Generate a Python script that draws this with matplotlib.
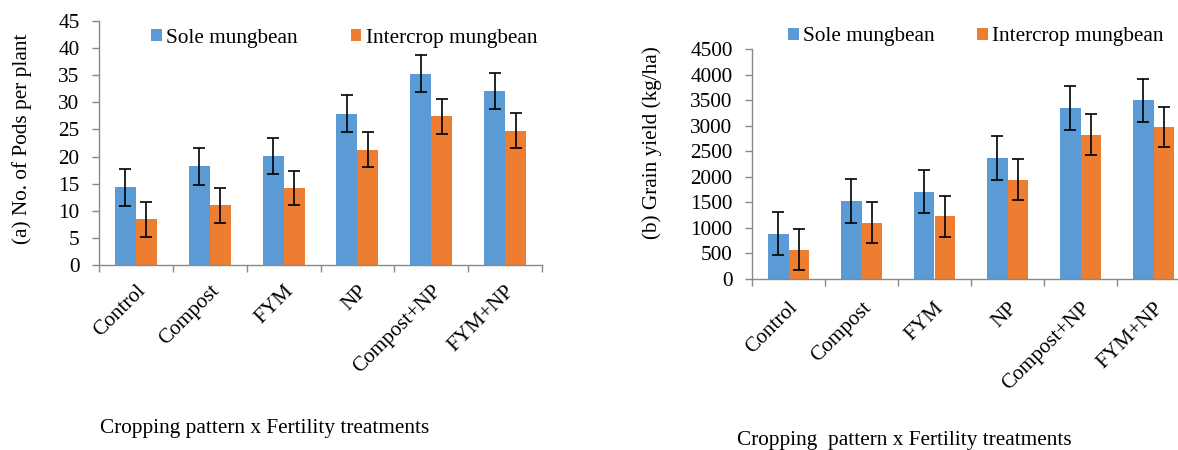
import matplotlib
matplotlib.use("Agg")
import matplotlib.pyplot as plt
import matplotlib.transforms as mtransforms
import numpy as np

plt.rcParams['font.family'] = ['Liberation Serif', 'DejaVu Serif']
plt.rcParams['font.size'] = 15.3

treatments = ['Control', 'Compost', 'FYM', 'NP', 'Compost+NP', 'FYM+NP']

# (a) pods per plant
pods_sole = [14.3, 18.2, 20.1, 27.9, 35.3, 32.1]
pods_sole_err = [3.4, 3.4, 3.4, 3.4, 3.4, 3.4]
pods_inter = [8.4, 11.0, 14.2, 21.3, 27.4, 24.8]
pods_inter_err = [3.2, 3.2, 3.2, 3.2, 3.2, 3.2]

# (b) grain yield
yield_sole = [885, 1530, 1710, 2370, 3345, 3495]
yield_sole_err = [425, 425, 425, 425, 425, 425]
yield_inter = [575, 1100, 1225, 1945, 2820, 2975]
yield_inter_err = [400, 400, 400, 400, 400, 400]

BLUE = '#5B9BD5'
ORANGE = '#ED7D31'
GRAY = '#898989'

W, H = 1178, 450
fig = plt.figure(figsize=(W / 100, H / 100), dpi=100)


def px_axes(x0, y_top, x1, y_bot):
    return fig.add_axes([x0 / W, 1 - y_bot / H, (x1 - x0) / W, (y_bot - y_top) / H])


def draw_panel(ax, sole, sole_err, inter, inter_err, ymax, ystep, pad, dx):
    x = np.arange(len(treatments))
    bw = 0.285
    eb = dict(ecolor='black', elinewidth=1.2, capsize=4.5, capthick=1.2)
    ax.bar(x - bw / 2, sole, bw, color=BLUE, yerr=sole_err, error_kw=eb,
           label='Sole mungbean', zorder=2)
    ax.bar(x + bw / 2, inter, bw, color=ORANGE, yerr=inter_err, error_kw=eb,
           label='Intercrop mungbean', zorder=2)
    ax.set_xlim(-0.5, len(treatments) - 0.5)
    ax.set_ylim(0, ymax)
    ax.set_yticks(np.arange(0, ymax + ystep / 2, ystep))
    ax.set_xticks(x)
    ax.set_xticklabels(treatments, rotation=45, ha='right', va='top',
                       rotation_mode='anchor')
    shift = mtransforms.ScaledTranslation(dx / 100, 0, fig.dpi_scale_trans)
    for lbl in ax.get_xticklabels():
        lbl.set_transform(lbl.get_transform() + shift)
    ax.set_xticks(np.arange(-0.5, len(treatments)), minor=True)
    ax.tick_params(axis='x', which='major', length=0, pad=pad)
    ax.tick_params(axis='x', which='minor', length=5, color=GRAY, width=1)
    ax.tick_params(axis='y', length=5, color=GRAY, width=1, pad=9)
    for s in ['top', 'right']:
        ax.spines[s].set_visible(False)
    for s in ['left', 'bottom']:
        ax.spines[s].set_color(GRAY)
        ax.spines[s].set_linewidth(1)


ax1 = px_axes(99, 21, 542, 265)
draw_panel(ax1, pods_sole, pods_sole_err, pods_inter, pods_inter_err, 45, 5,
           pad=12, dx=-5)

ax2 = px_axes(752, 49, 1190, 279)
draw_panel(ax2, yield_sole, yield_sole_err, yield_inter, yield_inter_err, 4500, 500,
           pad=14, dx=-2)

legend_kw = dict(frameon=False, ncol=2, loc='center left', borderpad=0,
                 borderaxespad=0, handlelength=0.5, handleheight=0.5,
                 handletextpad=0.2, bbox_transform=fig.transFigure)
ax1.legend(bbox_to_anchor=(151 / W, 1 - 38 / H), columnspacing=2.5, **legend_kw)
ax2.legend(bbox_to_anchor=(788 / W, 1 - 37 / H), columnspacing=2.0, **legend_kw)

fig.text(22 / W, 1 - 139 / H, '(a) No. of Pods per plant', rotation=90,
         ha='center', va='center')
fig.text(652 / W, 1 - 143 / H, '(b) Grain yield (kg/ha)', rotation=90,
         ha='center', va='center')
fig.text(100 / W, 1 - 428 / H, 'Cropping pattern x Fertility treatments',
         ha='left', va='center')
fig.text(737 / W, 1 - 440 / H, 'Cropping  pattern x Fertility treatments',
         ha='left', va='center')

fig.savefig('out.png', dpi=100)
